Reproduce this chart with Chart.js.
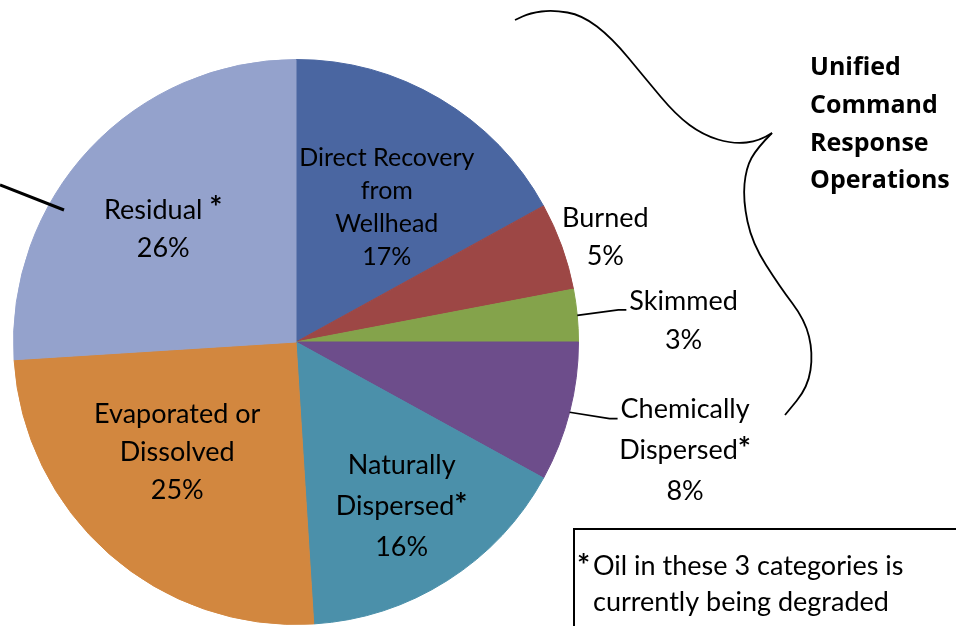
<!DOCTYPE html>
<html>
<head>
<meta charset="utf-8">
<script src="https://cdn.jsdelivr.net/npm/chart.js@4"></script>
<style>
  html, body { margin: 0; padding: 0; background: #fff; overflow: hidden; }
  canvas { display: block; }
</style>
</head>
<body>
<canvas id="myChart" width="956" height="626"></canvas>
<script>
// oil budget shares, clockwise from 12 o'clock
const categories = ['Direct Recovery from Wellhead', 'Burned', 'Skimmed', 'Chemically Dispersed',
  'Naturally Dispersed', 'Evaporated or Dissolved', 'Residual'];
const shares = [17, 5, 3, 8, 16, 25, 26];
const labelLines = [
  ['Direct Recovery', 'from', 'Wellhead'],
  ['Burned'],
  ['Skimmed'],
  ['Chemically', 'Dispersed*'],
  ['Naturally', 'Dispersed*'],
  ['Evaporated or', 'Dissolved'],
  ['Residual *']
];
const sliceColors = ['#4a66a1', '#9d4745', '#84a34b', '#6d4d8b', '#4b90aa', '#d2873f', '#94a2cc'];
const groupTitle = ['Unified', 'Command', 'Response', 'Operations'];
const footnote = ['Oil in these 3 categories is', 'currently being degraded', 'naturally'];

// label placement: distance as a fraction of the radius, angle nudge in degrees
const labelDist = [0.575, 1.156, 1.374, 1.43, 0.692, 0.575, 0.617];
const labelNudge = [3.4, 1.1, 2.2, 1.2, -0.3, 5.6, -2.8];
const labelLineH = [33, 38, 39, 41, 41, 38, 38];
const labelSize = [25, 27, 27, 27, 27, 27, 27];
const withLeader = [false, false, true, true, false, false, false];

// text with the asterisk set bold, centred on cx
function drawStarred(ctx, text, cx, y, size, align) {
  const parts = text.split('*');
  const plain = size + 'px Lato';
  const star = 'bold ' + Math.round(size * 1.15) + 'px Lato';
  const segs = [];
  parts.forEach((s, k) => {
    if (k > 0) segs.push({ t: '*', f: star, dy: -2 });
    if (s) segs.push({ t: s, f: plain, dy: 0 });
  });
  let total = 0;
  segs.forEach(s => { ctx.font = s.f; s.w = ctx.measureText(s.t).width; total += s.w; });
  let x = align === 'left' ? cx : cx - total / 2;
  ctx.textAlign = 'left';
  segs.forEach(s => { ctx.font = s.f; ctx.fillText(s.t, x, y + s.dy); x += s.w; });
  return total;
}

const sliceLabels = {
  id: 'sliceLabels',
  afterDatasetsDraw(chart) {
    const ctx = chart.ctx;
    const meta = chart.getDatasetMeta(0);
    ctx.save();
    ctx.fillStyle = '#000';
    ctx.strokeStyle = '#000';
    ctx.textBaseline = 'middle';
    meta.data.forEach((arc, i) => {
      const p = arc.getProps(['x', 'y', 'startAngle', 'endAngle', 'outerRadius'], true);
      const mid = (p.startAngle + p.endAngle) / 2;
      const a = mid + labelNudge[i] * Math.PI / 180;
      const d = p.outerRadius * labelDist[i];
      const cx = p.x + Math.cos(a) * d;
      const cy = p.y + Math.sin(a) * d;
      const lines = labelLines[i].concat([shares[i] + '%']);
      const lh = labelLineH[i];
      const top = cy - (lines.length - 1) * lh / 2;
      let firstW = 0;
      lines.forEach((t, k) => {
        const w = drawStarred(ctx, t, cx, top + k * lh, labelSize[i]);
        if (k === 0) firstW = w;
      });

      if (withLeader[i]) {
        const ex = cx - firstW / 2 - 3;
        const ey = top + 9;
        ctx.lineWidth = 1.6;
        ctx.beginPath();
        ctx.moveTo(p.x + Math.cos(mid) * p.outerRadius, p.y + Math.sin(mid) * p.outerRadius);
        ctx.lineTo(ex - 8, ey);
        ctx.lineTo(ex, ey);
        ctx.stroke();
      }
    });
    ctx.restore();
  }
};

// brace, group title, footnote box and the pointer line on the left
const annotations = {
  id: 'annotations',
  afterDraw(chart) {
    const ctx = chart.ctx;
    const meta = chart.getDatasetMeta(0);
    const c = meta.data[0].getProps(['x', 'y', 'outerRadius'], true);
    ctx.save();

    // pointer into the residual slice
    ctx.strokeStyle = '#000';
    ctx.lineWidth = 3;
    ctx.beginPath();
    ctx.moveTo(c.x - 296, c.y - 157);
    ctx.lineTo(c.x - 232, c.y - 132);
    ctx.stroke();

    // curly brace
    const upper = [[772, 133], [760, 141], [733, 144], [703, 135], [676, 115], [645, 78],
      [612, 38], [582, 15], [553, 10], [530, 13], [515, 20]];
    const lower = [[772, 133], [757, 148], [746, 168], [743, 200], [752, 243], [780, 287],
      [805, 320], [813, 353], [808, 387], [785, 415]];
    ctx.lineWidth = 1.8;
    [upper, lower].forEach(pts => {
      ctx.beginPath();
      ctx.moveTo(pts[0][0], pts[0][1]);
      for (let k = 1; k < pts.length - 1; k++) {
        const mx = (pts[k][0] + pts[k + 1][0]) / 2;
        const my = (pts[k][1] + pts[k + 1][1]) / 2;
        ctx.quadraticCurveTo(pts[k][0], pts[k][1], mx, my);
      }
      const last = pts[pts.length - 1];
      ctx.lineTo(last[0], last[1]);
      ctx.stroke();
    });

    ctx.fillStyle = '#000';
    ctx.textAlign = 'left';
    ctx.textBaseline = 'middle';
    ctx.font = 'bold 25px "Open Sans"';
    groupTitle.forEach((t, k) => ctx.fillText(t, 810, 68 + k * 37.7));

    // footnote box
    ctx.lineWidth = 2;
    ctx.strokeRect(574, 529, 500, 200);
    ctx.font = 'bold 31px Lato';
    ctx.fillText('*', 577, 566);
    ctx.font = '27px Lato';
    footnote.forEach((t, k) => ctx.fillText(t, 593, 566 + k * 36));

    ctx.restore();
  }
};

const data = {
  labels: categories,
  datasets: [{
    data: shares,
    backgroundColor: sliceColors,
    borderColor: sliceColors,
    borderWidth: 1
  }]
};

const config = {
  type: 'pie',
  data: data,
  options: {
    responsive: false,
    animation: false,
    layout: {
      padding: { left: 13, right: 377, top: 59, bottom: 1 }
    },
    plugins: {
      legend: { display: false },
      tooltip: { enabled: false },
      title: { display: false }
    }
  },
  plugins: [sliceLabels, annotations]
};

const myChart = new Chart(document.getElementById('myChart'), config);
</script>
</body>
</html>
